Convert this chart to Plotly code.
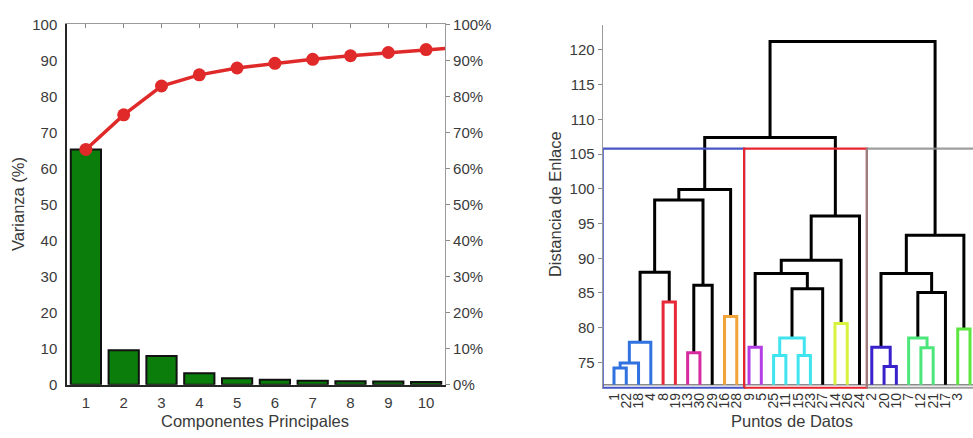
import plotly.graph_objects as go

FONT = "Liberation Sans, Arial, sans-serif"

# ---------------- Left panel data (PCA) ----------------
components = [1, 2, 3, 4, 5, 6, 7, 8, 9, 10]
variance = [65.3, 9.6, 8.0, 3.2, 1.8, 1.4, 1.1, 1.0, 0.9, 0.8]
cum_x = [1, 2, 3, 4, 5, 6, 7, 8, 9, 10, 11]
cum_variance = [65.3, 74.9, 82.9, 86.0, 87.9, 89.2, 90.3, 91.3, 92.2, 93.0, 93.7]
left_ticks = [0, 10, 20, 30, 40, 50, 60, 70, 80, 90, 100]
right_ticks = [0, 0.1, 0.2, 0.3, 0.4, 0.5, 0.6, 0.7, 0.8, 0.9, 1.0]

# ---------------- Right panel data (dendrogram) ----------------
leaf_labels = ["1", "22", "18", "4", "8", "19", "13", "30", "29", "16", "28",
               "9", "5", "25", "11", "15", "23", "27", "14", "26", "24",
               "2", "20", "10", "7", "12", "21", "17", "3", "6"]
# merges: nodes 0..29 are leaves (in display order), 30+ are merges in order
merge_left = [0, 30, 31, 4, 32, 6, 35, 34, 9, 37,
              11, 13, 15, 41, 43, 40, 18, 45, 47, 39,
              22, 21, 25, 24, 53, 51, 28, 55, 49]
merge_right = [1, 2, 3, 5, 33, 7, 8, 36, 10, 38,
               12, 14, 16, 42, 17, 44, 19, 46, 20, 48,
               23, 50, 26, 52, 27, 54, 29, 56, 57]
merge_height = [74.2, 74.9, 77.9, 83.7, 88.0, 76.4, 86.1, 98.4, 81.6, 99.9,
                77.2, 76.0, 76.0, 78.5, 85.6, 87.8, 80.6, 89.7, 96.1, 107.4,
                74.4, 77.2, 77.1, 78.5, 85.05, 87.8, 79.8, 93.3, 121.2]
merge_color = ["blue", "blue", "blue", "red", "black", "magenta", "black", "black", "orange", "black",
               "purple", "cyan", "cyan", "cyan", "black", "black", "yellow", "black", "black", "black",
               "navy", "navy", "green", "green", "black", "black", "green2", "black", "black"]
leaf_base = 71.8
cut_height = 105.8
cluster_sizes = [11, 10, 9]
box_colors = ["#4656c4", "#e6262e", "#8e8e8e"]
dend_ticks = [75, 80, 85, 90, 95, 100, 105, 110, 115, 120]

palette = {
    "black": "#000000", "blue": "#2f72e0", "red": "#e62838", "magenta": "#d62aa0",
    "orange": "#f0a43a", "purple": "#b43ee6", "cyan": "#40e4ee", "yellow": "#d8f23e",
    "navy": "#3a22cc", "green": "#4ee67c", "green2": "#5ce640",
}

fig = go.Figure()

# ---- Left: bars + cumulative line ----
fig.add_trace(go.Bar(
    x=components, y=variance, width=0.8,
    marker=dict(color="#0b7d0b", line=dict(color="#111111", width=2)),
    xaxis="x", yaxis="y", showlegend=False,
))
fig.add_trace(go.Scatter(
    x=cum_x, y=cum_variance, mode="lines+markers",
    line=dict(color="#e02a2a", width=3.5),
    marker=dict(color="#e02a2a", size=13),
    xaxis="x", yaxis="y", showlegend=False, cliponaxis=True,
))
# invisible traces to activate the right and top axes
fig.add_trace(go.Scatter(x=[1], y=[0], mode="markers", marker=dict(opacity=0),
                         xaxis="x", yaxis="y2", showlegend=False, hoverinfo="skip"))
fig.add_trace(go.Scatter(x=[1], y=[0], mode="markers", marker=dict(opacity=0),
                         xaxis="x3", yaxis="y", showlegend=False, hoverinfo="skip"))

# ---- Right: dendrogram ----
n_leaves = len(leaf_labels)
node_x = {i: i + 1 for i in range(n_leaves)}
node_y = {i: leaf_base for i in range(n_leaves)}
segs = {}
for k, (l, r, h, c) in enumerate(zip(merge_left, merge_right, merge_height, merge_color)):
    nid = n_leaves + k
    xl, xr = node_x[l], node_x[r]
    yl, yr = node_y[l], node_y[r]
    xs, ys = segs.setdefault(c, ([], []))
    xs += [xl, xl, xr, xr, None]
    ys += [yl, h, h, yr, None]
    node_x[nid] = (xl + xr) / 2
    node_y[nid] = h

# baseline (gray)
fig.add_trace(go.Scatter(x=[0, n_leaves + 1], y=[leaf_base, leaf_base], mode="lines",
                         line=dict(color="#8a8a8a", width=1.5),
                         xaxis="x2", yaxis="y3", showlegend=False, hoverinfo="skip"))

for c in ["black", "blue", "red", "magenta", "orange", "purple", "cyan", "yellow",
          "navy", "green", "green2"]:
    xs, ys = segs[c]
    fig.add_trace(go.Scatter(x=xs, y=ys, mode="lines",
                             line=dict(color=palette[c], width=3),
                             xaxis="x2", yaxis="y3", showlegend=False, hoverinfo="skip"))

# cluster boxes
box_bottom = 71.35
edges = [0.08]
acc = 0
for s in cluster_sizes:
    acc += s
    edges.append(acc + 0.6)
edges[-1] = n_leaves + 2
for i, col in enumerate(box_colors):
    x0, x1 = edges[i], edges[i + 1]
    fig.add_trace(go.Scatter(
        x=[x0, x0, x1, x1, x0], y=[box_bottom, cut_height, cut_height, box_bottom, box_bottom],
        mode="lines", line=dict(color=col, width=2.2),
        opacity=0.85 if i == 2 else 1.0,
        xaxis="x2", yaxis="y3", showlegend=False, hoverinfo="skip"))

axis_font = dict(family=FONT, size=15, color="#3a3a3a")

fig.update_layout(
    width=973, height=438,
    margin=dict(l=0, r=0, t=0, b=0),
    paper_bgcolor="white", plot_bgcolor="white",
    font=dict(family=FONT),
    bargap=0.2,
    xaxis=dict(domain=[67 / 973, 445 / 973], anchor="y", range=[0.5, 10.5],
               tickmode="array", tickvals=components, ticktext=[str(c) for c in components],
               ticks="outside", ticklen=3, tickcolor="rgba(0,0,0,0)",
               showline=True, linecolor="#262626", linewidth=1.5,
               showgrid=False, zeroline=False, tickfont=axis_font),
    xaxis3=dict(overlaying="x", anchor="y", side="top", matches="x", range=[0.5, 10.5],
                tickmode="array", tickvals=components, showticklabels=False,
                ticks="inside", ticklen=4, tickcolor="#888888",
                showline=True, linecolor="#9a9a9a", linewidth=1.2, showgrid=False, zeroline=False),
    yaxis=dict(domain=[1 - 391 / 438, 1 - 16 / 438], anchor="x", range=[0, 100],
               tickmode="array", tickvals=left_ticks,
               ticks="outside", ticklen=5, tickcolor="rgba(0,0,0,0)",
               showline=True, linecolor="#262626", linewidth=1.5,
               showgrid=False, zeroline=False, tickfont=axis_font),
    yaxis2=dict(overlaying="y", anchor="x", side="right", range=[0, 1],
                tickmode="array", tickvals=right_ticks, tickformat=".0%",
                ticks="outside", ticklen=4, tickcolor="#8a8a8a",
                showline=True, linecolor="#9a9a9a", linewidth=1.2,
                showgrid=False, zeroline=False, tickfont=axis_font),
    xaxis2=dict(domain=[602.7 / 973, 1.0], anchor="y3", range=[0.08, 30.244],
                tickmode="array", tickvals=list(range(1, n_leaves + 1)), ticktext=leaf_labels,
                tickangle=-90, ticks="", showline=False, showgrid=False, zeroline=False,
                tickfont=dict(family=FONT, size=14, color="#333333")),
    yaxis3=dict(domain=[1 - 395.5 / 438, 1 - 17 / 438], anchor="x2", range=[71.15, 123.54],
                tickmode="array", tickvals=dend_ticks,
                ticks="outside", ticklen=4, tickcolor="#8a8a8a",
                showline=True, linecolor="#9a9a9a", linewidth=1.2,
                showgrid=False, zeroline=False, tickfont=axis_font),
)

title_font = dict(family=FONT, size=16.5, color="#3a3a3a")
fig.add_annotation(text="Componentes Principales", xref="paper", yref="paper",
                   x=255 / 973, y=1 - 428.5 / 438, xanchor="center", yanchor="middle",
                   showarrow=False, font=title_font)
fig.add_annotation(text="Varianza (%)", xref="paper", yref="paper",
                   x=18 / 973, y=1 - 203 / 438, xanchor="center", yanchor="middle",
                   textangle=-90, showarrow=False, font=title_font)
fig.add_annotation(text="Puntos de Datos", xref="paper", yref="paper",
                   x=791.7 / 973, y=1 - 428.5 / 438, xanchor="center", yanchor="middle",
                   showarrow=False, font=title_font)
fig.add_annotation(text="Distancia de Enlace", xref="paper", yref="paper",
                   x=555 / 973, y=1 - 203 / 438, xanchor="center", yanchor="middle",
                   textangle=-90, showarrow=False, font=title_font)

fig.write_html("out.html",
               config={"displayModeBar": False},
               post_script="document.body.style.margin='0';document.body.style.padding='0';"
                           "document.documentElement.style.overflow='hidden';")
